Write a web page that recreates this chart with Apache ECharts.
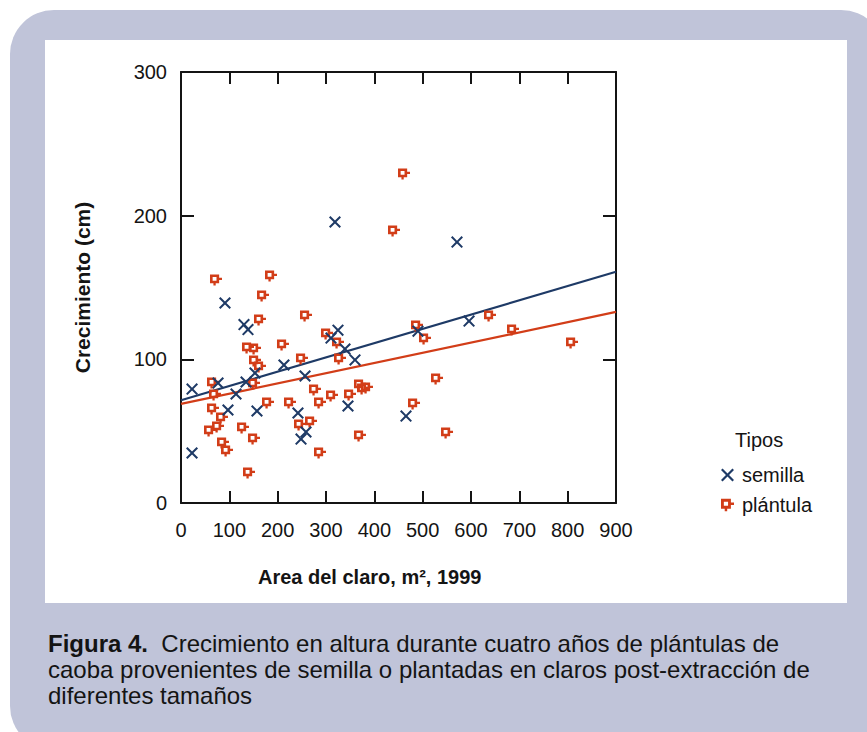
<!DOCTYPE html>
<html>
<head>
<meta charset="utf-8">
<script src="https://cdn.jsdelivr.net/npm/echarts@6/dist/echarts.min.js"></script>
<style>
  html, body { margin: 0; padding: 0; background: #ffffff; }
  #chart { width: 867px; height: 732px; }
</style>
</head>
<body>
<div id="chart"></div>
<script>
// ---- Data ----
const xTicks = [0, 100, 200, 300, 400, 500, 600, 700, 800, 900];
const yTicks = [0, 100, 200, 300];

const semillaX = [22.8, 22.8, 76.6, 91, 97.2, 113.8, 130.3, 138.6, 134.5, 153.1, 157.2, 213, 242, 248.3, 258.6, 256.6, 310.3, 324.8, 339.3, 360, 345.5, 318.6, 465.5, 490.3, 571, 595.9];
const semillaY = [79.3, 34.8, 83.5, 139.2, 64.7, 75.9, 124.2, 120.7, 84.2, 90.5, 64, 96.1, 62.6, 44.5, 49.4, 88.4, 114.8, 120.3, 107.2, 99.6, 67.5, 195.6, 60.5, 119.6, 181.6, 126.6];

const plantulaX = [72.4, 186.2, 169.7, 163.4, 258.6, 302.1, 324.8, 211.0, 138.6, 153.1, 153.1, 163.4, 250.3, 329.0, 66.2, 70.3, 151.0, 66.2, 84.8, 76.6, 60.0, 180.0, 128.3, 151.0, 86.9, 95.2, 140.7, 225.5, 277.2, 287.6, 312.4, 349.7, 370.3, 376.6, 384.8, 269.0, 246.2, 287.6, 370.3, 461.4, 440.7, 488.3, 504.8, 529.7, 482.1, 550.4, 639.3, 686.9, 809.0];
const plantulaY = [155.2, 158.0, 144.1, 127.4, 130.2, 117.6, 111.4, 110.0, 107.9, 107.2, 98.8, 94.7, 100.2, 100.2, 83.5, 75.2, 82.8, 65.4, 59.2, 52.9, 50.1, 69.6, 52.2, 44.5, 41.8, 36.2, 20.9, 69.6, 78.7, 69.6, 74.5, 75.2, 82.1, 79.3, 80.0, 56.4, 54.3, 34.8, 46.6, 229.0, 189.3, 123.2, 114.2, 86.3, 68.9, 48.7, 130.2, 120.4, 111.4];

// fitted regression lines (end points)
const semillaFitX = [0, 900];
const semillaFitY = [71.5, 161];
const plantulaFitX = [0, 900];
const plantulaFitY = [69, 133];

const seriesNames = ['semilla', 'plántula'];
const legendTitle = 'Tipos';
const xTitle = 'Area del claro, m², 1999';
const yTitle = 'Crecimiento (cm)';
const captionBold = 'Figura 4.';
const captionLines = [
  'Crecimiento en altura durante cuatro años de plántulas de',
  'caoba provenientes de semilla o plantadas en claros post-extracción de',
  'diferentes tamaños'
];

// ---- Styles ----
const NAVY = '#1e3a66';
const RED = '#d23d18';
const LAV = '#c0c4d9';
const INK = '#141414';
const FONT = '"Liberation Sans", Arial, Helvetica, sans-serif';

const xSymbol = 'path://M0 1.2 L1.2 0 L5 3.8 L8.8 0 L10 1.2 L6.2 5 L10 8.8 L8.8 10 L5 6.2 L1.2 10 L0 8.8 L3.8 5 Z';
const pSymbol = 'path://M0 0 H8 V8 H0 Z M2.3 2.3 V5.7 H5.7 V2.3 Z M8 3 H10.5 V5 H8 Z M3 8 H5 V10 H3 Z';

const zip = (a, b) => a.map((v, i) => [v, b[i]]);

const chart = echarts.init(document.getElementById('chart'), null, { renderer: 'svg' });

const axisLineStyle = { color: INK, width: 2 };

const option = {
  animation: false,
  backgroundColor: '#ffffff',
  textStyle: { fontFamily: FONT },
  graphic: [
    { type: 'rect', z: -10, silent: true,
      shape: { x: 10, y: 10, width: 875, height: 740, r: 44 },
      style: { fill: LAV } },
    { type: 'rect', z: -9, silent: true,
      shape: { x: 45, y: 40, width: 802, height: 563 },
      style: { fill: '#ffffff' } },
    { type: 'text', left: 258, top: 567, z: 10,
      style: { text: xTitle, font: 'bold 20px ' + FONT, fill: INK } },
    { type: 'text', left: 735, top: 430, z: 10,
      style: { text: legendTitle, font: '20px ' + FONT, fill: INK } },
    { type: 'text', left: 48, top: 630, z: 10,
      style: {
        text: '{b|' + captionBold + '}  ' + captionLines[0] + '\n' + captionLines[1] + '\n' + captionLines[2],
        font: '24px ' + FONT, fill: INK, lineHeight: 26,
        rich: { b: { font: 'bold 24px ' + FONT, fill: INK, lineHeight: 26 } }
      } }
  ],
  grid: { left: 181, top: 72, width: 435, height: 431, show: false },
  legend: {
    orient: 'vertical', left: 716, top: 460, itemGap: 10,
    itemWidth: 13, itemHeight: 13,
    textStyle: { fontSize: 20, color: INK, fontFamily: FONT, padding: [0, 0, 0, 3] },
    data: [
      { name: seriesNames[0], icon: xSymbol },
      { name: seriesNames[1], icon: pSymbol }
    ]
  },
  xAxis: [
    { type: 'value', min: xTicks[0], max: xTicks[xTicks.length - 1], interval: 100,
      position: 'bottom',
      axisLine: { show: true, lineStyle: axisLineStyle },
      axisTick: { show: true, inside: true, length: 12, lineStyle: axisLineStyle },
      axisLabel: { fontSize: 20, color: INK, margin: 17, fontFamily: FONT },
      splitLine: { show: false } },
    { type: 'value', min: xTicks[0], max: xTicks[xTicks.length - 1], interval: 100,
      position: 'top',
      axisLine: { show: true, onZero: false, lineStyle: axisLineStyle },
      axisTick: { show: true, inside: true, length: 12, lineStyle: axisLineStyle },
      axisLabel: { show: false },
      splitLine: { show: false } }
  ],
  yAxis: [
    { type: 'value', min: yTicks[0], max: yTicks[yTicks.length - 1], interval: 100,
      position: 'left',
      name: yTitle, nameLocation: 'middle', nameGap: 88, nameRotate: 90,
      nameTextStyle: { fontSize: 21, fontWeight: 'bold', color: INK, fontFamily: FONT },
      axisLine: { show: true, lineStyle: axisLineStyle },
      axisTick: { show: true, inside: true, length: 13, lineStyle: axisLineStyle },
      axisLabel: { fontSize: 20, color: INK, margin: 14, fontFamily: FONT },
      splitLine: { show: false } },
    { type: 'value', min: yTicks[0], max: yTicks[yTicks.length - 1], interval: 100,
      position: 'right',
      axisLine: { show: true, onZero: false, lineStyle: axisLineStyle },
      axisTick: { show: true, inside: true, length: 13, lineStyle: axisLineStyle },
      axisLabel: { show: false },
      splitLine: { show: false } }
  ],
  series: [
    { name: 'fit-semilla', type: 'line', data: zip(semillaFitX, semillaFitY),
      showSymbol: false, symbol: 'none', z: 2,
      lineStyle: { color: NAVY, width: 2.2 }, itemStyle: { color: NAVY } },
    { name: 'fit-plantula', type: 'line', data: zip(plantulaFitX, plantulaFitY),
      showSymbol: false, symbol: 'none', z: 2,
      lineStyle: { color: RED, width: 2.2 }, itemStyle: { color: RED } },
    { name: seriesNames[0], type: 'scatter', data: zip(semillaX, semillaY),
      symbol: xSymbol, symbolSize: 12, z: 4,
      itemStyle: { color: NAVY, opacity: 1 } },
    { name: seriesNames[1], type: 'scatter', data: zip(plantulaX, plantulaY),
      symbol: pSymbol, symbolSize: [12, 11], z: 3,
      itemStyle: { color: RED, opacity: 1 } }
  ]
};

chart.setOption(option);
</script>
</body>
</html>
